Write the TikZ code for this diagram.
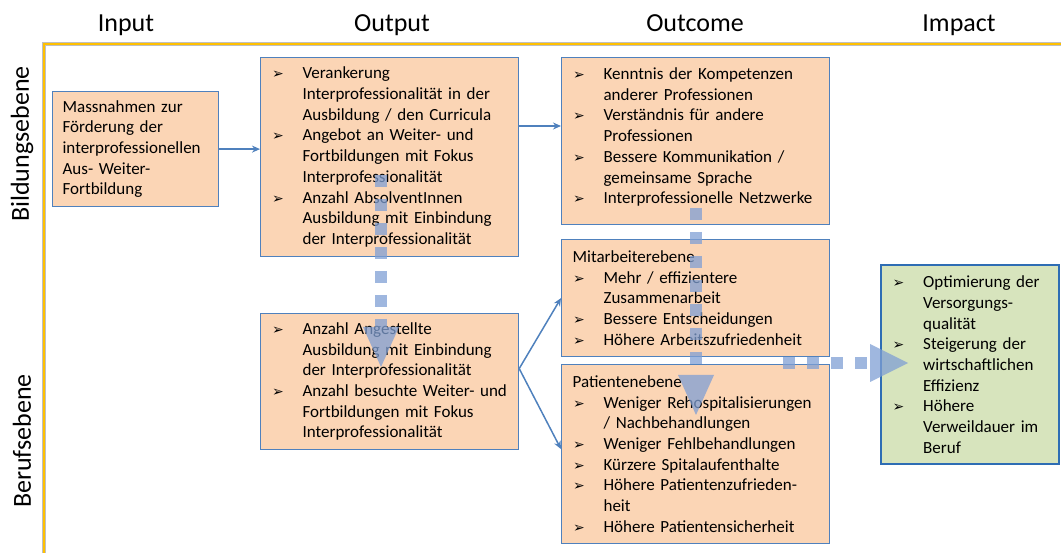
\documentclass[tikz,border=0pt]{standalone}
\usepackage{fontspec}
\setmainfont{Carlito}
\newfontfamily\dejavu{DejaVu Sans}
\usetikzlibrary{arrows.meta,calc}
\definecolor{peach}{HTML}{FBD5B5}
\definecolor{boxblue}{HTML}{4F81BD}
\definecolor{impgreen}{HTML}{D7E4BD}
\definecolor{impblue}{HTML}{2E6DB4}
\definecolor{frameyellow}{HTML}{FFC000}
\definecolor{dasharrow}{HTML}{7F9FD4}
\hyphenpenalty=10000
\exhyphenpenalty=10000
\newcommand{\bul}{\makebox[31pt][l]{\hspace{0.5pt}{\dejavu\bfseries\fontsize{14}{14}\selectfont ➢}}}
\newcommand{\ind}{\hspace*{31pt}}
\tikzset{
  box/.style={draw=boxblue, line width=1.2pt, fill=peach, anchor=north west, align=left,
    inner xsep=11pt, inner ysep=0pt, font=\fontsize{17}{20.7}\selectfont},
  impbox/.style={box, draw=impblue, line width=2.4pt, fill=impgreen},
  head/.style={font=\fontsize{26}{30}\selectfont, anchor=base},
  side/.style={font=\fontsize{26}{30}\selectfont, rotate=90, anchor=center},
  conn/.style={draw=boxblue, line width=1.5pt, -{Stealth[length=8pt,width=7pt]}},
  shaft/.style={draw=dasharrow, draw opacity=0.75, line width=12pt, dash pattern=on 12pt off 12pt},
  tiphead/.style={fill=dasharrow, fill opacity=0.75}
}
\begin{document}
\begin{tikzpicture}[x=1pt,y=-1pt]
\useasboundingbox (0,0) rectangle (1061,553);
% frame
\draw[gray!50, line width=4pt] (44,570) |- (1075,44);
\draw[frameyellow, line width=2pt] (44,570) |- (1075,44);
% headers
\node[head] (hin) at (126,32) {Input};
\node[head] (hout) at (392,32) {Output};
\node[head] (hoc) at (695,32) {Outcome};
\node[head] (him) at (959,32) {Impact};
\node[side] (sbild) at (22,144) {Bildungsebene};
\node[side] (sberuf) at (22,441) {Berufsebene};
% boxes
\node[box, minimum width=166pt, text width=146pt, inner xsep=10pt, minimum height=115pt] (in) at (52,91)
  {Massnahmen zur\\Förderung der\\interprofessionellen\\Aus- Weiter-\\Fortbildung};
\node[box, minimum width=258pt, text width=236pt, minimum height=199pt] (out1) at (260,57)
  {\bul Verankerung\\\ind Interprofessionalität in der\\\ind Ausbildung / den Curricula\\
   \bul Angebot an Weiter- und\\\ind Fortbildungen mit Fokus\\\ind Interprofessionalität\\
   \bul Anzahl AbsolventInnen\\\ind Ausbildung mit Einbindung\\\ind der Interprofessionalität};
\node[box, minimum width=258pt, text width=236pt, minimum height=136pt] (out2) at (260,313)
  {\bul Anzahl Angestellte\\\ind Ausbildung mit Einbindung\\\ind der Interprofessionalität\\
   \bul Anzahl besuchte Weiter- und\\\ind Fortbildungen mit Fokus\\\ind Interprofessionalität};
\node[box, minimum width=268pt, text width=246pt, minimum height=167pt] (oc1) at (561,57)
  {\bul Kenntnis der Kompetenzen\\\ind anderer Professionen\\
   \bul Verständnis für andere\\\ind Professionen\\
   \bul Bessere Kommunikation /\\\ind gemeinsame Sprache\\
   \bul Interprofessionelle Netzwerke\\[-10pt]\mbox{}};
\node[box, minimum width=268pt, text width=246pt, minimum height=117pt] (mit) at (561,239)
  {Mitarbeiterebene\\
   \bul Mehr / effizientere\\\ind Zusammenarbeit\\
   \bul Bessere Entscheidungen\\
   \bul Höhere Arbeitszufriedenheit};
\node[box, minimum width=268pt, text width=246pt, minimum height=179pt] (pat) at (561,364)
  {Patientenebene\\
   \bul Weniger Rehospitalisierungen\\\ind / Nachbehandlungen\\
   \bul Weniger Fehlbehandlungen\\
   \bul Kürzere Spitalaufenthalte\\
   \bul Höhere Patientenzufrieden-\\\ind heit\\
   \bul Höhere Patientensicherheit};
\node[impbox, minimum width=178pt, text width=156pt, minimum height=199pt] (imp) at (880,264)
  {\bul Optimierung der\\\ind Versorgungs-\\\ind qualität\\
   \bul Steigerung der\\\ind wirtschaftlichen\\\ind Effizienz\\
   \bul Höhere\\\ind Verweildauer im\\\ind Beruf};
% connectors
\draw[conn] (in.east) -- (in.east -| out1.west);
\coordinate (o1a) at ($(out1.north east)+(0,69)$);
\draw[conn] (o1a) -- (o1a -| oc1.west);
\coordinate (o2a) at ($(out2.east)+(0,-13)$);
\draw[conn] (o2a) -- (mit.west);
\draw[conn] (o2a) -- ($(pat.west)+(0,-5)$);
% big dashed arrows
\coordinate (a1s) at (381,175);
\coordinate (a1b) at (381,327);
\coordinate (a1e) at (381,367);
\draw[shaft] (a1s) -- (a1b);
\fill[tiphead] ($(a1b)+(-18,0)$) -- ($(a1b)+(18,0)$) -- (a1e) -- cycle;
\coordinate (a2s) at (696,208);
\coordinate (a2b) at (696,375);
\coordinate (a2e) at (696,415);
\draw[shaft] (a2s) -- (a2b);
\fill[tiphead] ($(a2b)+(-18,0)$) -- ($(a2b)+(18,0)$) -- (a2e) -- cycle;
\coordinate (a3s) at (783,363);
\coordinate (a3b) at (870,363);
\coordinate (a3e) at (908,363);
\draw[shaft] (a3s) -- (a3b);
\fill[tiphead] ($(a3b)+(0,-19)$) -- ($(a3b)+(0,19)$) -- (a3e) -- cycle;
\end{tikzpicture}
\end{document}
